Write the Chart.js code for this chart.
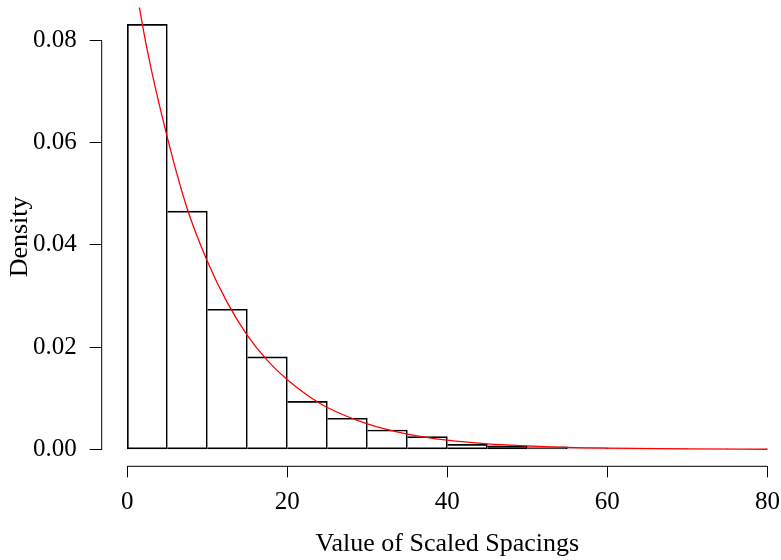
<!DOCTYPE html>
<html>
<head>
<meta charset="utf-8">
<script src="https://cdn.jsdelivr.net/npm/chart.js@4.4.1/dist/chart.umd.min.js"></script>
<style>
  html, body { margin: 0; padding: 0; background: #fff; overflow: hidden; }
  /* plot region runs a little past the right edge of the window, as in the original */
  #wrap { width: 793px; height: 560px; }
</style>
</head>
<body>
<div id="wrap"><canvas id="myChart"></canvas></div>
<script>
// histogram: left edge of each bin and its density
var binStarts = [0, 5, 10, 15, 20, 25, 30, 35, 40, 45, 50, 55, 60, 65, 70, 75];
var binWidth = 5;
var densities = [0.0831, 0.0466, 0.0274, 0.0181, 0.0094, 0.0061, 0.0038, 0.0025,
                 0.0010, 0.0007, 0.0005, 0.0003, 0.0002, 0.00015, 0.0001, 0.0001];

// red density curve, read at these x values
var curveX = [0, 2.5, 5, 7.5, 10, 12.5, 15, 17.5, 20, 22.5, 25, 30, 35, 40, 45, 50, 55, 60, 70, 80];
var curveY = [0.100, 0.078, 0.061, 0.047, 0.0368, 0.0287, 0.0223, 0.0174, 0.0136, 0.0106,
              0.0082, 0.0050, 0.0030, 0.0018, 0.0011, 0.0007, 0.0004, 0.00025, 0.0001, 0.00003];

var xTicks = [0, 20, 40, 60, 80];
var yTicks = [0, 0.02, 0.04, 0.06, 0.08];

Chart.defaults.font.family = '"Liberation Serif", "Times New Roman", serif';
Chart.defaults.font.size = 25;
Chart.defaults.color = '#000';

// R style axis lines: only from first to last tick
var axisLines = {
  id: 'axisLines',
  afterDraw: function(chart) {
    var ctx = chart.ctx, xs = chart.scales.x, ys = chart.scales.y, a = chart.chartArea;
    ctx.save();
    ctx.strokeStyle = '#000';
    ctx.lineWidth = 1;
    ctx.beginPath();
    ctx.moveTo(xs.getPixelForValue(xTicks[0]), a.bottom);
    ctx.lineTo(xs.getPixelForValue(xTicks[xTicks.length - 1]), a.bottom);
    ctx.moveTo(a.left, ys.getPixelForValue(yTicks[0]));
    ctx.lineTo(a.left, ys.getPixelForValue(yTicks[yTicks.length - 1]));
    ctx.stroke();
    ctx.restore();
  }
};

var bars = binStarts.map(function(s, i) { return { x: s + binWidth / 2, y: densities[i] }; });
var curve = curveX.map(function(x, i) { return { x: x, y: curveY[i] }; });

new Chart(document.getElementById('myChart'), {
  type: 'bar',
  data: {
    datasets: [
      {
        type: 'line',
        data: curve,
        borderColor: '#ff0000',
        borderWidth: 1.3,
        pointRadius: 0,
        fill: false,
        cubicInterpolationMode: 'monotone',
        order: 0
      },
      {
        type: 'bar',
        data: bars,
        backgroundColor: 'rgba(255,255,255,0)',
        borderColor: '#000',
        borderWidth: 1,
        borderSkipped: function(c) { return c.dataIndex === 0 ? false : 'left'; },
        barPercentage: 1,
        categoryPercentage: 1,
        order: 1
      }
    ]
  },
  options: {
    responsive: true,
    maintainAspectRatio: false,
    animation: false,
    layout: { padding: { top: 7.5, left: 0, right: 0, bottom: 0 } },
    plugins: { legend: { display: false }, tooltip: { enabled: false } },
    scales: {
      x: {
        type: 'linear',
        offset: false,
        min: -3.2,
        max: 83.2,
        afterBuildTicks: function(s) { s.ticks = xTicks.map(function(v) { return { value: v }; }); },
        afterFit: function(s) { s.height = 93.7; s.paddingLeft = 0; s.paddingRight = 0; },
        border: { display: false },
        grid: { offset: false, drawOnChartArea: false, drawTicks: true, tickLength: 11, color: '#000', lineWidth: 1 },
        ticks: { padding: 10, maxRotation: 0, autoSkip: false, callback: function(v) { return String(v); } },
        title: { display: true, text: 'Value of Scaled Spacings', font: { size: 26 }, padding: { top: 0, bottom: 0 } }
      },
      y: {
        type: 'linear',
        min: -0.0033,
        max: 0.0864,
        afterBuildTicks: function(s) { s.ticks = yTicks.map(function(v) { return { value: v }; }); },
        afterFit: function(s) { s.width = 101.7; s.paddingTop = 0; s.paddingBottom = 0; },
        border: { display: false },
        grid: { offset: false, drawOnChartArea: false, drawTicks: true, tickLength: 12, color: '#000', lineWidth: 1 },
        ticks: { padding: 13, autoSkip: false, callback: function(v) { return v.toFixed(2); } },
        title: { display: true, text: 'Density', font: { size: 26 }, padding: { top: 5, bottom: 0 } }
      }
    }
  },
  plugins: [axisLines]
});
</script>
</body>
</html>
